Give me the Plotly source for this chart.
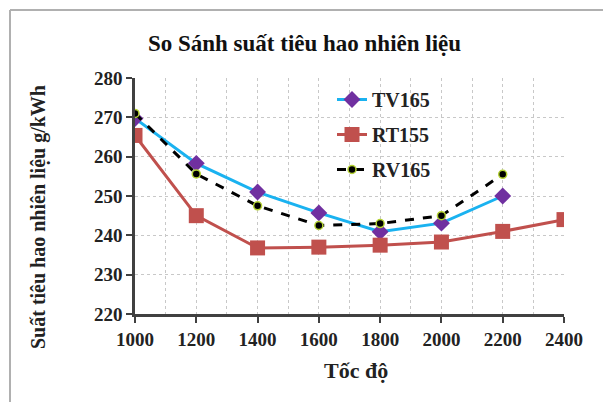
import plotly.graph_objects as go

speeds = [1000, 1200, 1400, 1600, 1800, 2000, 2200, 2400]
tv165 = [269.7, 258.3, 251.0, 245.7, 240.9, 243.1, 250.0]
rt155 = [265.4, 245.0, 236.8, 237.0, 237.5, 238.3, 241.0, 244.0]
rv165 = [271.0, 255.6, 247.5, 242.5, 243.0, 245.0, 255.5]

F = "Liberation Serif"
fig = go.Figure()
fig.add_trace(go.Scatter(x=speeds[:7], y=tv165, name="<b>TV165</b>", mode="lines+markers",
                         legendgroup="a",
                         line=dict(color="#1AB2F0", width=3),
                         marker=dict(symbol="diamond", size=13, color="#7030A0")))
fig.add_trace(go.Scatter(x=speeds, y=rt155, name="<b>RT155</b>", mode="lines+markers",
                         legendgroup="b",
                         line=dict(color="#C0504D", width=3),
                         marker=dict(symbol="square", size=15, color="#C0504D")))
fig.add_trace(go.Scatter(x=speeds[:7], y=rv165, name="<b>RV165</b>", mode="lines+markers",
                         legendgroup="c",
                         line=dict(color="black", width=3, dash="dash"),
                         marker=dict(symbol="circle", size=8, color="black",
                                     line=dict(color="#B5D334", width=1.5))))

pw, ph = 603 - 135 - 39, 402 - 78 - 88
def px(x): return (x - 135) / pw
def py(y): return (402 - 88 - y) / ph

fig.update_layout(
    width=603, height=402, paper_bgcolor="white", plot_bgcolor="white",
    margin=dict(l=135, r=39, t=78, b=88),
    title=dict(text="<b>So Sánh suất tiêu hao nhiên liệu</b>", x=0.505, xanchor="center",
               y=0.893, yanchor="middle", font=dict(family=F, size=23, color="#111")),
    font=dict(family=F, color="black"),
    legend=dict(x=px(332), y=py(80), xanchor="left", yanchor="top", bgcolor="rgba(255,255,255,0)",
                font=dict(family=F, size=20, color="#222"), tracegroupgap=6, itemwidth=30),
    showlegend=True,
)
fig.update_xaxes(range=[1000, 2400], tickvals=speeds, ticktext=[f"<b>{s}</b>" for s in speeds],
                 tickfont=dict(family=F, size=19, color="#222"),
                 showline=True, linecolor="#404040", linewidth=2.5,
                 ticks="outside", ticklen=6, tickcolor="#404040", tickwidth=2,
                 showgrid=True, gridcolor="#C8C8C8", griddash="dot", gridwidth=1,
                 minor=dict(dtick=100, showgrid=True, gridcolor="#C8C8C8", griddash="dot"),
                 zeroline=False)
fig.update_yaxes(range=[220, 280], tickvals=list(range(220, 290, 10)),
                 ticktext=[f"<b>{v}</b>" for v in range(220, 290, 10)],
                 tickfont=dict(family=F, size=19, color="#222"),
                 showline=True, linecolor="#404040", linewidth=2.5,
                 ticks="outside", ticklen=6, tickcolor="#404040", tickwidth=2,
                 showgrid=True, gridcolor="#C8C8C8", griddash="dot", gridwidth=1,
                 zeroline=False)

fig.add_annotation(text="<b>Tốc độ</b>", xref="paper", yref="paper", x=px(356), y=py(370),
                   xanchor="center", yanchor="middle", showarrow=False,
                   font=dict(family=F, size=22, color="#222"))
fig.add_annotation(text="<b>Suất tiêu hao nhiên liệu g/kWh</b>", xref="paper", yref="paper",
                   x=px(38), y=py(217), xanchor="center", yanchor="middle", textangle=-90,
                   showarrow=False, font=dict(family=F, size=20, color="#222"))

# outer frame (cropped chart border)
fig.add_shape(type="line", xref="paper", yref="paper", x0=px(10), x1=px(603), y0=py(10), y1=py(10),
              line=dict(color="#B0B0B0", width=2))
fig.add_shape(type="line", xref="paper", yref="paper", x0=px(10), x1=px(10), y0=py(10), y1=py(402),
              line=dict(color="#B0B0B0", width=2))

fig.write_html("out.html")
